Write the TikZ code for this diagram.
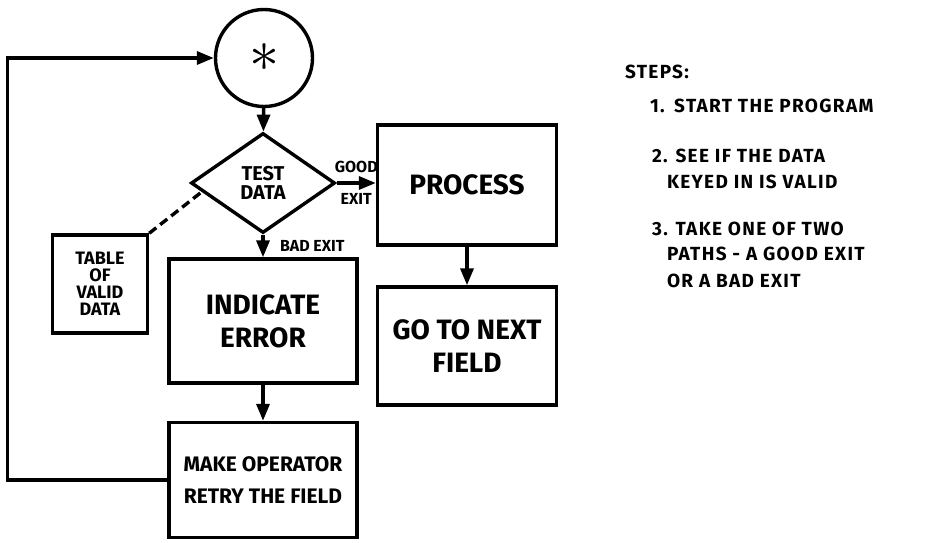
\documentclass[tikz,border=0pt]{standalone}
\usepackage{fontspec}
\setmainfont{Fira Sans}
\newfontfamily\stepfont{Fira Sans}[LetterSpace=7]
\usetikzlibrary{shapes.geometric,arrows.meta,calc}

\begin{document}
\begin{tikzpicture}[x=1pt,y=-1pt,line width=3.4pt,
  box/.style={draw,rectangle,align=center,inner sep=0pt},
  flow/.style={-{Triangle[length=17pt,width=13pt]}},
  big/.style={font=\bfseries\fontsize{28}{33}\selectfont},
  small/.style={font=\bfseries\fontsize{16}{16}\selectfont},
  steptext/.style={anchor=base west,font=\stepfont\bfseries\fontsize{19}{19}\selectfont}]
\useasboundingbox (0,0) rectangle (926,543);
\node (start) at (264,58) [circle,draw,minimum size=97pt,inner sep=0pt] {\scalebox{6}{$\ast$}};
\node (test) at (263,183) [diamond,draw,minimum width=144pt,minimum height=100pt,inner sep=0pt,align=center,font=\bfseries\fontsize{20}{19}\selectfont] {TEST\\DATA};
\node (proc) at (467,185) [box,big,minimum width=179pt,minimum height=120pt] {PROCESS};
\node (next) at (467,346) [box,big,minimum width=179pt,minimum height=118pt] {GO TO NEXT\\FIELD};
\node (err) at (263,321) [box,big,minimum width=188pt,minimum height=124pt] {INDICATE\\ERROR};
\node (retry) at (263,480) [box,minimum width=188pt,minimum height=115pt,font=\bfseries\fontsize{21}{32}\selectfont] {MAKE OPERATOR\\RETRY THE FIELD};
\node (tab) at (100,284) [box,minimum width=95pt,minimum height=98pt,font=\bfseries\fontsize{18}{17}\selectfont] {TABLE\\OF\\VALID\\DATA};
\draw[flow] (start) -- (test);
\draw[flow] (test.east) -- node[above=5pt,small] {GOOD} node[below=5pt,small] {EXIT} (test.east -| proc.west);
\draw[flow] (test) -- node[right=12pt,small] {BAD EXIT} (err);
\draw[flow] (proc) -- (next);
\draw[flow] (err) -- (retry);
\draw[flow] (retry.west) -- ++(-160,0) |- (start);
\draw[dash pattern=on 9pt off 5pt] (tab.north east) -- ($(test.west)!0.17!(test.south)$);
% steps
\node (steps) at (620,78) [steptext] {STEPS:};
\node (s1) at (645,112) [steptext] {1.\enspace START THE PROGRAM};
\node (s2) at (647,162) [steptext] {2. SEE IF THE DATA};
\node (s2b) at (662,188) [steptext] {KEYED IN IS VALID};
\node (s3) at (647,235) [steptext] {3. TAKE ONE OF TWO};
\node (s3b) at (662,260) [steptext] {PATHS - A GOOD EXIT};
\node (s3c) at (662,287) [steptext] {OR A BAD EXIT};
\end{tikzpicture}
\end{document}
